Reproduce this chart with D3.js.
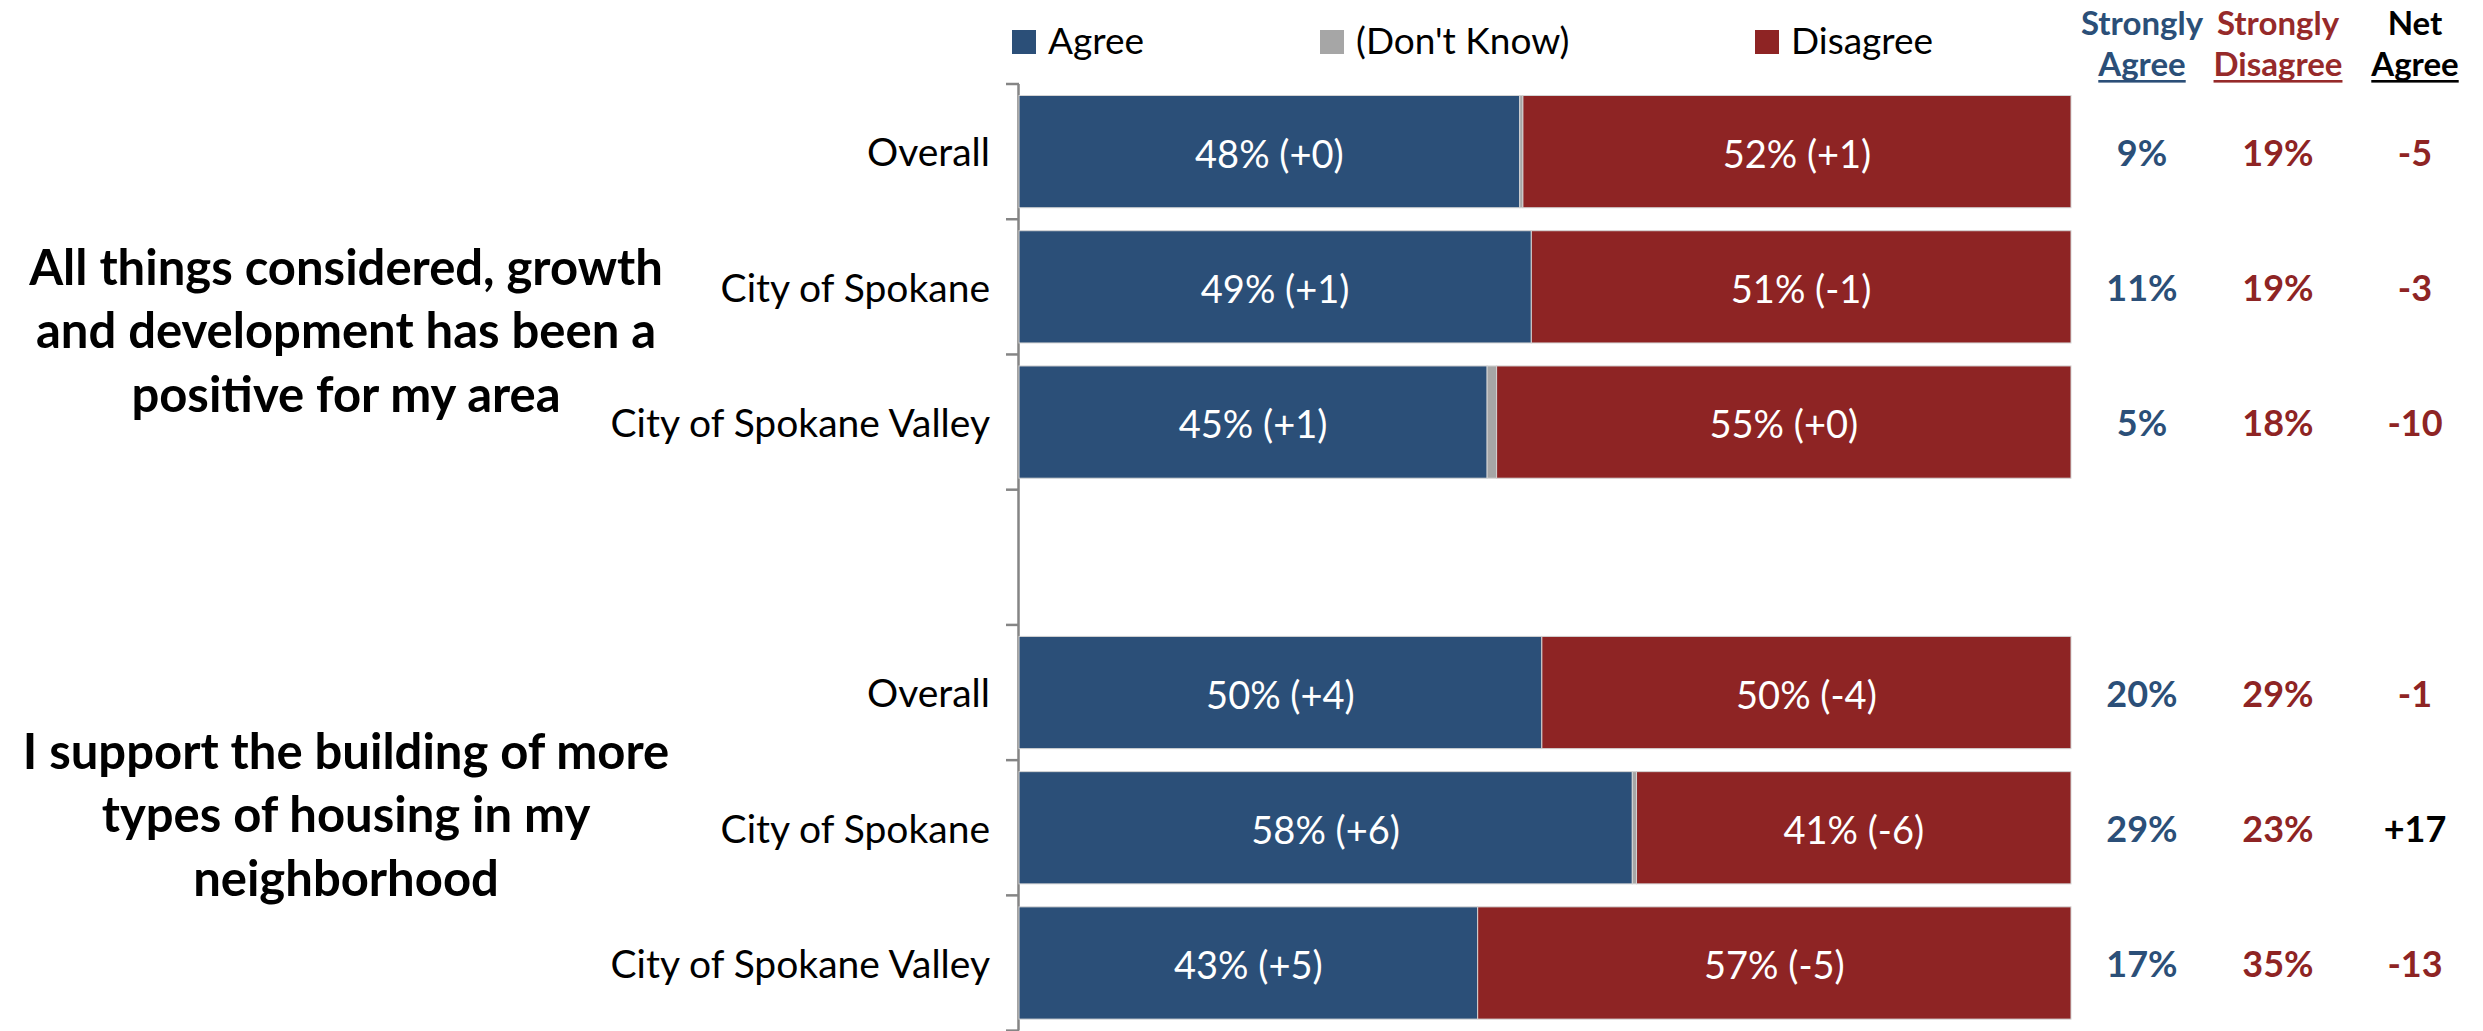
<!DOCTYPE html>
<html>
<head>
<meta charset="utf-8">
<script src="https://cdn.jsdelivr.net/npm/d3@7"></script>
<style>
  body { margin: 0; background: #fff; }
  svg { display: block; font-family: Lato, "Noto Sans", sans-serif; }
</style>
</head>
<body>
<svg></svg>
<script>
// data
var categories = ["Overall", "City of Spokane", "City of Spokane Valley"];
var questions = [
  ["All things considered, growth", "and development has been a", "positive for my area"],
  ["I support the building of more", "types of housing in my", "neighborhood"]
];
var agree =    [47.6, 48.7, 44.5, 49.7, 58.3, 43.6];
var dontKnow = [0.3, 0.0, 0.9, 0.0, 0.4, 0.0];
var disagree = [52.1, 51.3, 54.6, 50.3, 41.3, 56.4];
var agreeLabels =    ["48% (+0)", "49% (+1)", "45% (+1)", "50% (+4)", "58% (+6)", "43% (+5)"];
var disagreeLabels = ["52% (+1)", "51% (-1)", "55% (+0)", "50% (-4)", "41% (-6)", "57% (-5)"];
var strongAgree =    [9, 11, 5, 20, 29, 17];
var strongDisagree = [19, 19, 18, 29, 23, 35];
var netAgree =       [-5, -3, -10, -1, 17, -13];
var seriesNames = ["Agree", "(Don't Know)", "Disagree"];

var width = 2483,
  height = 1031,
  blue = "#2b4f78",
  grey = "#a6a6a6",
  red = "#8e2424";

var svg = d3.select("svg").attr("width", width).attr("height", height);

// rows: 3 per question, with an empty slot between the groups
var rows = [];
questions.forEach(function(q, qi) {
  categories.forEach(function(c, ci) {
    var i = qi * 3 + ci;
    rows.push({
      key: "q" + qi + "-" + c,
      cat: c,
      agree: agree[i],
      dk: dontKnow[i],
      disagree: disagree[i],
      aLabel: agreeLabels[i],
      dLabel: disagreeLabels[i],
      sa: strongAgree[i],
      sd: strongDisagree[i],
      net: netAgree[i]
    });
  });
});
var domain = rows.slice(0, 3).map(function(d) { return d.key; })
  .concat(["gap"])
  .concat(rows.slice(3).map(function(d) { return d.key; }));

var y = d3.scaleBand()
  .domain(domain)
  .range([84, 1030.6])
  .paddingInner(0.17)
  .paddingOuter(0.085);

var x = d3.scaleLinear().domain([0, 100]).range([1019, 2071]);

// axis with ticks between categories
var axis = svg.append("g").attr("stroke", "#858585");
axis.append("line")
  .attr("x1", x(0) - 0.5).attr("x2", x(0) - 0.5)
  .attr("y1", y.range()[0]).attr("y2", y.range()[1])
  .attr("stroke-width", 2.5);
var tickYs = domain.map(function(k) { return y(k) - y.step() * y.paddingInner() / 2; })
  .concat([y.range()[1]]);
axis.selectAll(".tick")
  .data(tickYs)
  .enter().append("line")
  .attr("x1", x(0) - 13).attr("x2", x(0))
  .attr("y1", function(d) { return d; })
  .attr("y2", function(d) { return d; })
  .attr("stroke-width", 2.5);

// stacked bars
var stack = d3.stack().keys(["agree", "dk", "disagree"]);
var layers = stack(rows);
var colors = [blue, grey, red];

svg.append("g").selectAll("g")
  .data(layers)
  .enter().append("g")
  .attr("fill", function(d, i) { return colors[i]; })
  .selectAll("rect")
  .data(function(d) { return d; })
  .enter().append("rect")
  .attr("x", function(d) { return x(d[0]); })
  .attr("width", function(d) { return x(d[1]) - x(d[0]); })
  .attr("y", function(d) { return y(d.data.key); })
  .attr("height", y.bandwidth())
  .attr("stroke", "#d4d4d4")
  .attr("stroke-width", 1);

// labels inside bars
var barText = svg.append("g")
  .attr("fill", "#fff")
  .attr("font-size", 38)
  .attr("text-anchor", "middle");
rows.forEach(function(d) {
  var cy = y(d.key) + y.bandwidth() / 2;
  barText.append("text")
    .attr("x", (x(0) + x(d.agree)) / 2)
    .attr("y", cy).attr("dy", "0.43em")
    .text(d.aLabel);
  barText.append("text")
    .attr("x", (x(d.agree + d.dk) + x(100)) / 2)
    .attr("y", cy).attr("dy", "0.43em")
    .text(d.dLabel);
});

// category labels
svg.append("g").selectAll("text")
  .data(rows)
  .enter().append("text")
  .attr("x", 990)
  .attr("y", function(d) { return y(d.key) + y.bandwidth() / 2; })
  .attr("dy", "0.38em")
  .attr("text-anchor", "end")
  .attr("font-size", 39)
  .attr("fill", "#000")
  .text(function(d) { return d.cat; });

// question titles
var titleY = [348, 832];
questions.forEach(function(lines, qi) {
  var t = svg.append("text")
    .attr("text-anchor", "middle")
    .attr("font-size", 49)
    .attr("font-weight", "bold")
    .attr("fill", "#000");
  lines.forEach(function(l, li) {
    t.append("tspan")
      .attr("x", 346)
      .attr("y", titleY[qi] + (li - 1) * 63.5)
      .text(l);
  });
});

// legend
var legendX = [1012, 1320, 1755];
var legend = svg.append("g").selectAll("g")
  .data(seriesNames)
  .enter().append("g")
  .attr("transform", function(d, i) { return "translate(" + legendX[i] + ",30)"; });
legend.append("rect")
  .attr("width", 24).attr("height", 24)
  .attr("fill", function(d, i) { return colors[i]; });
legend.append("text")
  .attr("x", 36).attr("y", 23.5)
  .attr("font-size", 37)
  .attr("fill", "#000")
  .text(function(d) { return d; });

// right-hand columns
var colX = [2142, 2278, 2415];
var headers = [["Strongly", "Agree"], ["Strongly", "Disagree"], ["Net", "Agree"]];
var headColors = [blue, "#962a2a", "#000"];
headers.forEach(function(h, i) {
  var g = svg.append("g")
    .attr("fill", headColors[i])
    .attr("font-size", 33)
    .attr("font-weight", "bold")
    .attr("text-anchor", "middle");
  g.append("text").attr("x", colX[i]).attr("y", 35).text(h[0]);
  var t2 = g.append("text").attr("x", colX[i]).attr("y", 76).text(h[1]);
  var w = t2.node().getComputedTextLength();
  g.append("rect")
    .attr("x", colX[i] - w / 2).attr("y", 80)
    .attr("width", w).attr("height", 2.6);
});

var valueCols = svg.append("g")
  .attr("font-size", 36)
  .attr("font-weight", "bold")
  .attr("text-anchor", "middle");
rows.forEach(function(d) {
  var cy = y(d.key) + y.bandwidth() / 2;
  valueCols.append("text")
    .attr("x", colX[0]).attr("y", cy).attr("dy", "0.4em")
    .attr("fill", blue)
    .text(d.sa + "%");
  valueCols.append("text")
    .attr("x", colX[1]).attr("y", cy).attr("dy", "0.4em")
    .attr("fill", red)
    .text(d.sd + "%");
  valueCols.append("text")
    .attr("x", colX[2]).attr("y", cy).attr("dy", "0.4em")
    .attr("fill", d.net > 0 ? "#000" : red)
    .text((d.net > 0 ? "+" : "") + d.net);
});
</script>
</body>
</html>
